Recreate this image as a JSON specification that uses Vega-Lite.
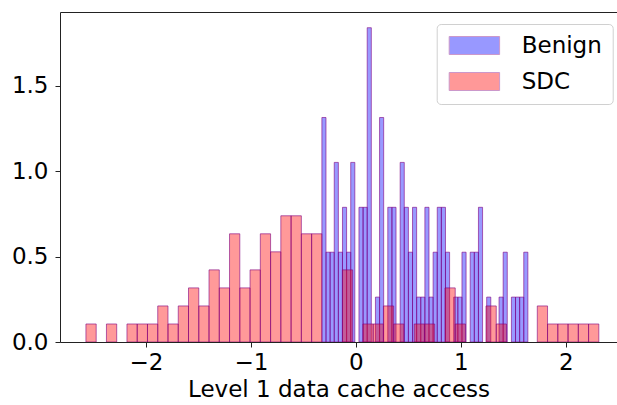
{
  "$schema": "https://vega.github.io/schema/vega-lite/v6.json",
  "width": 557,
  "height": 330,
  "autosize": "none",
  "padding": {"left": 60, "top": 12, "right": 0, "bottom": 63},
  "background": "white",
  "config": {
    "font": "DejaVu Sans",
    "view": {"stroke": null},
    "axis": {
      "labelFont": "DejaVu Sans",
      "labelFontSize": 23,
      "labelColor": "#000000",
      "tickColor": "#222222",
      "domainColor": "#222222",
      "tickSize": 5,
      "tickWidth": 1,
      "domainWidth": 1,
      "grid": false,
      "titleFont": "DejaVu Sans",
      "titleFontSize": 23,
      "titleFontWeight": "normal",
      "titleColor": "#000000"
    }
  },
  "datasets": {
    "benign": [
      {"group": "Benign", "x0": -0.3238, "x1": -0.2846, "density": 1.3137},
      {"group": "Benign", "x0": -0.2846, "x1": -0.2453, "density": 0.5255},
      {"group": "Benign", "x0": -0.2453, "x1": -0.2061, "density": 0.5255},
      {"group": "Benign", "x0": -0.2061, "x1": -0.1668, "density": 1.0509},
      {"group": "Benign", "x0": -0.1668, "x1": -0.1276, "density": 0.5255},
      {"group": "Benign", "x0": -0.1276, "x1": -0.0884, "density": 0.7882},
      {"group": "Benign", "x0": -0.0884, "x1": -0.0491, "density": 0.5255},
      {"group": "Benign", "x0": -0.0491, "x1": -0.0099, "density": 1.0509},
      {"group": "Benign", "x0": 0.0294, "x1": 0.0686, "density": 0.7882},
      {"group": "Benign", "x0": 0.0686, "x1": 0.1078, "density": 0.7882},
      {"group": "Benign", "x0": 0.1078, "x1": 0.1471, "density": 1.8391},
      {"group": "Benign", "x0": 0.1863, "x1": 0.2256, "density": 0.2627},
      {"group": "Benign", "x0": 0.2256, "x1": 0.2648, "density": 1.3137},
      {"group": "Benign", "x0": 0.3040, "x1": 0.3433, "density": 0.7882},
      {"group": "Benign", "x0": 0.3433, "x1": 0.3825, "density": 0.7882},
      {"group": "Benign", "x0": 0.4218, "x1": 0.4610, "density": 1.0509},
      {"group": "Benign", "x0": 0.4610, "x1": 0.5002, "density": 0.7882},
      {"group": "Benign", "x0": 0.5002, "x1": 0.5395, "density": 0.5255},
      {"group": "Benign", "x0": 0.5395, "x1": 0.5787, "density": 0.7882},
      {"group": "Benign", "x0": 0.5787, "x1": 0.6180, "density": 0.2627},
      {"group": "Benign", "x0": 0.6180, "x1": 0.6572, "density": 0.2627},
      {"group": "Benign", "x0": 0.6572, "x1": 0.6964, "density": 0.7882},
      {"group": "Benign", "x0": 0.6964, "x1": 0.7357, "density": 0.2627},
      {"group": "Benign", "x0": 0.7357, "x1": 0.7749, "density": 0.5255},
      {"group": "Benign", "x0": 0.7749, "x1": 0.8142, "density": 0.7882},
      {"group": "Benign", "x0": 0.8142, "x1": 0.8534, "density": 0.7882},
      {"group": "Benign", "x0": 0.8534, "x1": 0.8926, "density": 0.5255},
      {"group": "Benign", "x0": 0.9319, "x1": 0.9711, "density": 0.2627},
      {"group": "Benign", "x0": 0.9711, "x1": 1.0104, "density": 0.2627},
      {"group": "Benign", "x0": 1.0104, "x1": 1.0496, "density": 0.5255},
      {"group": "Benign", "x0": 1.0888, "x1": 1.1281, "density": 0.5255},
      {"group": "Benign", "x0": 1.1281, "x1": 1.1673, "density": 0.5255},
      {"group": "Benign", "x0": 1.1673, "x1": 1.2066, "density": 0.7882},
      {"group": "Benign", "x0": 1.2458, "x1": 1.2850, "density": 0.2627},
      {"group": "Benign", "x0": 1.3635, "x1": 1.4028, "density": 0.2627},
      {"group": "Benign", "x0": 1.4028, "x1": 1.4420, "density": 0.5255},
      {"group": "Benign", "x0": 1.4812, "x1": 1.5205, "density": 0.2627},
      {"group": "Benign", "x0": 1.5205, "x1": 1.5597, "density": 0.2627},
      {"group": "Benign", "x0": 1.5597, "x1": 1.5990, "density": 0.2627},
      {"group": "Benign", "x0": 1.5990, "x1": 1.6382, "density": 0.5255}
    ],
    "sdc": [
      {"group": "SDC", "x0": -2.5710, "x1": -2.4733, "density": 0.1055},
      {"group": "SDC", "x0": -2.3756, "x1": -2.2779, "density": 0.1055},
      {"group": "SDC", "x0": -2.1802, "x1": -2.0825, "density": 0.1055},
      {"group": "SDC", "x0": -2.0825, "x1": -1.9848, "density": 0.1055},
      {"group": "SDC", "x0": -1.9848, "x1": -1.8871, "density": 0.1055},
      {"group": "SDC", "x0": -1.8871, "x1": -1.7894, "density": 0.2110},
      {"group": "SDC", "x0": -1.7894, "x1": -1.6917, "density": 0.1055},
      {"group": "SDC", "x0": -1.6917, "x1": -1.5940, "density": 0.2110},
      {"group": "SDC", "x0": -1.5940, "x1": -1.4963, "density": 0.3166},
      {"group": "SDC", "x0": -1.4963, "x1": -1.3986, "density": 0.2110},
      {"group": "SDC", "x0": -1.3986, "x1": -1.3009, "density": 0.4221},
      {"group": "SDC", "x0": -1.3009, "x1": -1.2032, "density": 0.3166},
      {"group": "SDC", "x0": -1.2032, "x1": -1.1055, "density": 0.6331},
      {"group": "SDC", "x0": -1.1055, "x1": -1.0078, "density": 0.3166},
      {"group": "SDC", "x0": -1.0078, "x1": -0.9101, "density": 0.4221},
      {"group": "SDC", "x0": -0.9101, "x1": -0.8124, "density": 0.6331},
      {"group": "SDC", "x0": -0.8124, "x1": -0.7147, "density": 0.5276},
      {"group": "SDC", "x0": -0.7147, "x1": -0.6170, "density": 0.7386},
      {"group": "SDC", "x0": -0.6170, "x1": -0.5193, "density": 0.7386},
      {"group": "SDC", "x0": -0.5193, "x1": -0.4216, "density": 0.6331},
      {"group": "SDC", "x0": -0.4216, "x1": -0.3239, "density": 0.6331},
      {"group": "SDC", "x0": -0.1285, "x1": -0.0308, "density": 0.4221},
      {"group": "SDC", "x0": 0.0669, "x1": 0.1646, "density": 0.1055},
      {"group": "SDC", "x0": 0.1646, "x1": 0.2623, "density": 0.1055},
      {"group": "SDC", "x0": 0.2623, "x1": 0.3600, "density": 0.2110},
      {"group": "SDC", "x0": 0.3600, "x1": 0.4577, "density": 0.1055},
      {"group": "SDC", "x0": 0.5554, "x1": 0.6531, "density": 0.1055},
      {"group": "SDC", "x0": 0.6531, "x1": 0.7508, "density": 0.1055},
      {"group": "SDC", "x0": 0.8485, "x1": 0.9462, "density": 0.3166},
      {"group": "SDC", "x0": 0.9462, "x1": 1.0439, "density": 0.1055},
      {"group": "SDC", "x0": 1.2393, "x1": 1.3370, "density": 0.2110},
      {"group": "SDC", "x0": 1.3370, "x1": 1.4347, "density": 0.1055},
      {"group": "SDC", "x0": 1.7278, "x1": 1.8255, "density": 0.2110},
      {"group": "SDC", "x0": 1.8255, "x1": 1.9232, "density": 0.1055},
      {"group": "SDC", "x0": 1.9232, "x1": 2.0209, "density": 0.1055},
      {"group": "SDC", "x0": 2.0209, "x1": 2.1186, "density": 0.1055},
      {"group": "SDC", "x0": 2.1186, "x1": 2.2163, "density": 0.1055},
      {"group": "SDC", "x0": 2.2163, "x1": 2.3140, "density": 0.1055}
    ]
  },
  "layer": [
    {
      "data": {"name": "benign"},
      "mark": {"type": "bar", "fillOpacity": 0.4, "stroke": "#800080", "strokeOpacity": 0.6, "strokeWidth": 1, "clip": true},
      "encoding": {
        "x": {
          "field": "x0", "type": "quantitative",
          "scale": {"domain": [-2.818, 2.487], "nice": false, "zero": false},
          "axis": {
            "orient": "bottom",
            "values": [-2, -1, 0, 1, 2],
            "labelExpr": "replace(datum.label, '-', '\u2212')",
            "labelPadding": 4,
            "title": "Level 1 data cache access",
            "titlePadding": 4
          }
        },
        "x2": {"field": "x1"},
        "y": {
          "field": "density", "type": "quantitative",
          "scale": {"domain": [0, 1.931], "nice": false, "zero": true},
          "axis": {"values": [0, 0.5, 1, 1.5], "format": ".1f", "title": null, "labelPadding": 7}
        },
        "y2": {"datum": 0},
        "color": {
          "field": "group", "type": "nominal",
          "scale": {"domain": ["Benign", "SDC"], "range": ["#0000ff", "#ff0000"]},
          "legend": {
            "orient": "none",
            "legendX": 376.7,
            "legendY": 12,
            "title": null,
            "symbolType": "M-1,-1L4.6,-1L4.6,1L-1,1Z",
            "symbolSize": 324,
            "symbolStrokeColor": "#800080",
            "symbolStrokeWidth": 1,
            "symbolOpacity": 0.4,
            "labelFont": "DejaVu Sans",
            "labelFontSize": 23,
            "labelColor": "#000000",
            "labelOffset": 52,
            "padding": 10,
            "rowPadding": 12,
            "fillColor": "white",
            "strokeColor": "#d0d0d0",
            "cornerRadius": 4
          }
        }
      }
    },
    {
      "data": {"name": "sdc"},
      "mark": {"type": "bar", "fillOpacity": 0.4, "stroke": "#800080", "strokeOpacity": 0.6, "strokeWidth": 1, "clip": true},
      "encoding": {
        "x": {
          "field": "x0", "type": "quantitative",
          "axis": {"orient": "top", "labels": false, "ticks": false, "title": null, "domain": true}
        },
        "x2": {"field": "x1"},
        "y": {"field": "density", "type": "quantitative"},
        "y2": {"datum": 0},
        "color": {"field": "group", "type": "nominal"}
      }
    }
  ],
  "resolve": {"axis": {"x": "independent"}}
}
